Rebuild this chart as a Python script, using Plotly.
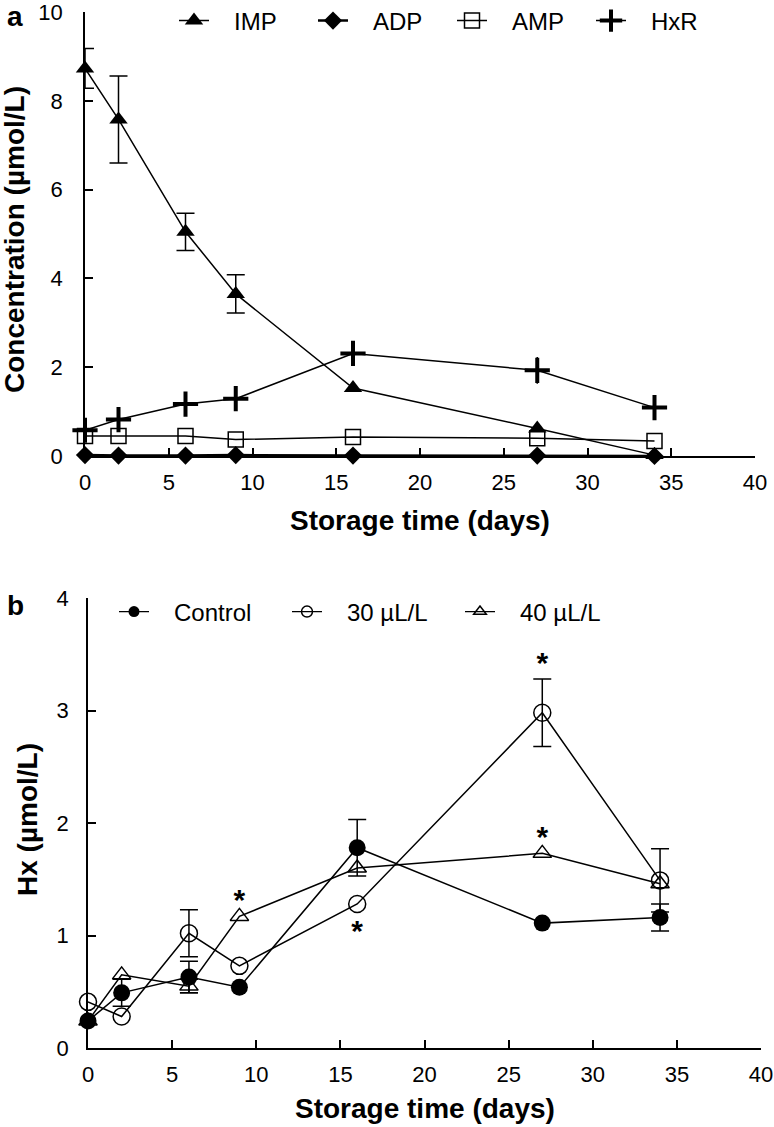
import plotly.graph_objects as go

# ---------------- data ----------------
days = [0, 2, 6, 9, 16, 27, 34]

# panel a (Concentration, µmol/L)
imp = [8.73, 7.58, 5.05, 3.65, 1.53, 0.62, 0.02]
imp_err = [0.45, 0.98, 0.42, 0.43, 0, 0, 0]
adp = [0.02, 0.01, 0.01, 0.02, 0.01, 0.01, 0.0]
amp = [0.45, 0.45, 0.45, 0.37, 0.43, 0.40, 0.34]
hxr = [0.58, 0.82, 1.17, 1.29, 2.31, 1.93, 1.09]
hxr_err = [0, 0, 0, 0, 0, 0.30, 0]

# panel b (Hx, µmol/L)
control = [0.24, 0.49, 0.63, 0.54, 1.78, 1.11, 1.16]
control_err = [0, 0.12, 0.14, 0, 0.25, 0, 0.12]
c30 = [0.41, 0.28, 1.02, 0.73, 1.28, 2.98, 1.49]
c30_err = [0, 0, 0.21, 0, 0, 0.30, 0.28]
c40 = [0.24, 0.65, 0.55, 1.17, 1.60, 1.73, 1.46]
c40_err = [0, 0, 0.06, 0, 0, 0, 0]

# significance stars: (day, position)
stars_30 = [(16, "below"), (27, "above")]
stars_40 = [(9, "above"), (27, "above")]

x_ticks = [0, 5, 10, 15, 20, 25, 30, 35, 40]
ya_ticks = [0, 2, 4, 6, 8, 10]
yb_ticks = [0, 1, 2, 3, 4]

FONT = "Liberation Sans, Arial, sans-serif"
W, H = 774, 1127
PAD = "\u00a0" * 3  # gap between legend symbol and label

fig = go.Figure()


def err_trace(vals, errs, xa, ya, width):
    xs = [d for d, e in zip(days, errs) if e > 0]
    ys = [v for v, e in zip(vals, errs) if e > 0]
    es = [e for e in errs if e > 0]
    return go.Scatter(
        x=xs, y=ys, mode="markers", xaxis=xa, yaxis=ya,
        marker=dict(size=1, color="rgba(0,0,0,0)"),
        error_y=dict(type="data", array=es, visible=True, color="black",
                     thickness=1.5, width=width),
        showlegend=False, hoverinfo="skip", cliponaxis=False)


line_a = dict(color="black", width=1.5)

# ---------- panel a ----------
fig.add_trace(err_trace(imp, imp_err, "x", "y", 9))
fig.add_trace(err_trace(hxr, hxr_err, "x", "y", 0))

fig.add_trace(go.Scatter(x=days, y=imp, name=PAD + "IMP", mode="lines+markers",
                         line=line_a, marker=dict(symbol="triangle-up", size=16, color="black"),
                         legend="legend", cliponaxis=False))
fig.add_trace(go.Scatter(x=days, y=adp, name=PAD + "ADP", mode="lines+markers",
                         line=dict(color="black", width=2.5),
                         marker=dict(symbol="diamond", size=14, color="black"),
                         legend="legend", cliponaxis=False))
fig.add_trace(go.Scatter(x=days, y=amp, name=PAD + "AMP", mode="lines+markers",
                         line=line_a,
                         marker=dict(symbol="square-open", size=15, color="black",
                                     line=dict(width=1.5, color="black")),
                         legend="legend", cliponaxis=False))
fig.add_trace(go.Scatter(x=days, y=hxr, name=PAD + "HxR", mode="lines+markers",
                         line=line_a,
                         marker=dict(symbol="cross-thin", size=18, color="black",
                                     line=dict(width=4, color="black")),
                         legend="legend", cliponaxis=False))

# ---------- panel b ----------
fig.add_trace(err_trace(control, control_err, "x2", "y2", 9))
fig.add_trace(err_trace(c30, c30_err, "x2", "y2", 9))
fig.add_trace(err_trace(c40, c40_err, "x2", "y2", 9))

b_series = [
    ("Control", control, dict(symbol="circle", color="black")),
    ("30 µL/L", c30, dict(symbol="circle-open", color="black", line=dict(width=1.5, color="black"))),
    ("40 µL/L", c40, dict(symbol="triangle-up-open", color="black", line=dict(width=1.5, color="black"))),
]
for name, vals, mk in b_series:
    big = dict(mk, size=17 if "circle" in mk["symbol"] else 16)
    fig.add_trace(go.Scatter(x=days, y=vals, name=name, mode="lines+markers",
                             xaxis="x2", yaxis="y2", line=line_a, marker=big,
                             showlegend=False, cliponaxis=False))
# legend entries for panel b (smaller symbols, as in the reference)
for name, vals, mk in b_series:
    small = dict(mk, size=11)
    fig.add_trace(go.Scatter(x=[None], y=[None], name=PAD + name, mode="lines+markers",
                             xaxis="x2", yaxis="y2", line=dict(color="black", width=1.2),
                             marker=small, legend="legend2"))

# stars derived from data
sx, sy = [], []
for series, errs, stars in ((c30, c30_err, stars_30), (c40, c40_err, stars_40)):
    for d, pos in stars:
        i = days.index(d)
        if pos == "above":
            yv = series[i] + errs[i] + 0.18
        else:
            yv = series[i] - 0.20
        sx.append(d)
        sy.append(yv - 0.06)
fig.add_trace(go.Scatter(x=sx, y=sy, mode="text", text=["*"] * len(sx),
                         textfont=dict(family=FONT, size=30, color="black", weight="bold"),
                         xaxis="x2", yaxis="y2", showlegend=False, hoverinfo="skip",
                         cliponaxis=False))

# ---------- layout ----------
ax_common = dict(showline=True, linecolor="black", linewidth=1.5, ticks="inside",
                 ticklen=8, tickwidth=1.5, tickcolor="black", showgrid=False,
                 zeroline=False, ticklabeloverflow="allow",
                 tickfont=dict(family=FONT, size=22, color="black"))

ya_top, ya_bot = 12, 456
yb_top, yb_bot = 598, 1048

fig.update_layout(
    width=W, height=H, plot_bgcolor="white", paper_bgcolor="white",
    margin=dict(l=0, r=0, t=0, b=0, autoexpand=False),
    xaxis=dict(domain=[85 / W, 755 / W], range=[0, 40], tickvals=x_ticks,
               anchor="y", ticklabelstandoff=6, **ax_common),
    yaxis=dict(domain=[1 - ya_bot / H, 1 - ya_top / H], range=[0, 10], tickvals=ya_ticks,
               anchor="x", ticklabelstandoff=16, **ax_common),
    xaxis2=dict(domain=[88 / W, 761 / W], range=[0, 40], tickvals=x_ticks,
                anchor="y2", ticklabelstandoff=6, **ax_common),
    yaxis2=dict(domain=[1 - yb_bot / H, 1 - yb_top / H], range=[0, 4], tickvals=yb_ticks,
                anchor="x2", ticklabelstandoff=13, **ax_common),
    legend=dict(orientation="h", x=174 / W, y=1 - 21 / H, xanchor="left", yanchor="middle",
                font=dict(family=FONT, size=24, color="black"), bgcolor="rgba(0,0,0,0)",
                entrywidth=94, entrywidthmode="pixels", itemsizing="trace"),
    legend2=dict(orientation="h", x=114 / W, y=1 - 612 / H, xanchor="left", yanchor="middle",
                 font=dict(family=FONT, size=24, color="black"), bgcolor="rgba(0,0,0,0)",
                 entrywidth=128, entrywidthmode="pixels", itemsizing="trace"),
    showlegend=True,
)

title_font = dict(family=FONT, size=28, color="black", weight="bold")
annots = [
    dict(text="Storage time (days)", x=(85 + 755) / 2 / W, y=1 - 520 / H),
    dict(text="Storage time (days)", x=(88 + 761) / 2 / W, y=1 - 1108 / H),
    dict(text="Concentration (µmol/L)", x=14 / W, y=1 - 240 / H, textangle=-90),
    dict(text="Hx (µmol/L)", x=27 / W, y=1 - 820 / H, textangle=-90),
]
for a in annots:
    fig.add_annotation(xref="paper", yref="paper", showarrow=False, font=title_font,
                       xanchor="center", yanchor="middle", **a)
for lbl, yy in (("a", 17), ("b", 605)):
    fig.add_annotation(text=lbl, xref="paper", yref="paper", x=15 / W, y=1 - yy / H,
                       showarrow=False, xanchor="center", yanchor="middle",
                       font=dict(family=FONT, size=28, color="black", weight="bold"))

fig.write_html("out.html", config={"displayModeBar": False},
               post_script="document.body.style.margin='0';document.body.style.overflow='hidden';")
